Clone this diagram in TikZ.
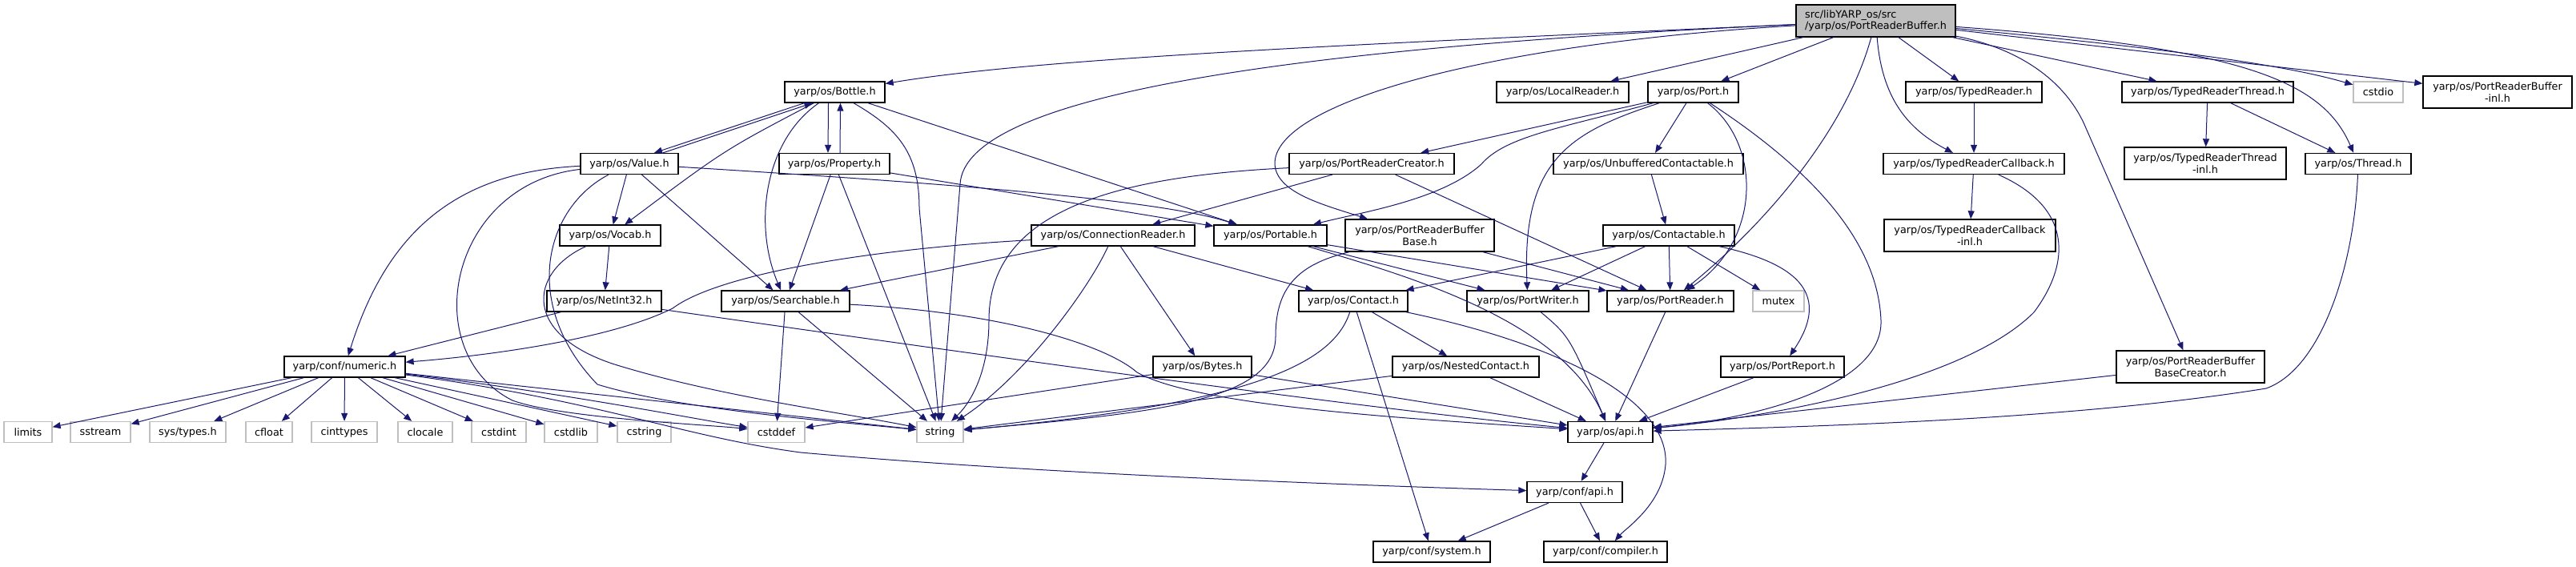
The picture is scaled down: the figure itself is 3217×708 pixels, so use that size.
\documentclass[tikz,border=0pt]{standalone}
\usepackage{fontspec}
\setmainfont{DejaVu Sans}
\usetikzlibrary{arrows.meta}
\definecolor{edgec}{HTML}{191970}
\definecolor{grayb}{HTML}{BFBFBF}
\begin{document}
\begin{tikzpicture}[x=1pt,y=-1pt,
  box/.style={draw=black, line width=1.3pt, fill=white, inner sep=0pt, minimum height=26pt,
    font=\fontsize{12.8}{14.7}\selectfont, align=center},
  sys/.style={box, draw=grayb},
  big/.style={minimum height=40pt},
  e/.style={draw=edgec, line width=1pt, -{Triangle[length=10pt,width=8pt]}}]
\useasboundingbox (0,0) rectangle (3217,708);
% row 0
\node[box, fill=grayb, big, minimum width=199pt, align=left] (root) at (2342.5,26) {src/libYARP\_os/src\\/yarp/os/PortReaderBuffer.h};
% row 1
\node[box, minimum width=125pt] (bottle) at (1042.5,115) {yarp/os/Bottle.h};
\node[box, minimum width=165pt] (local) at (1951.5,115) {yarp/os/LocalReader.h};
\node[box, minimum width=113pt] (port) at (2114.5,115) {yarp/os/Port.h};
\node[box, minimum width=170pt] (treader) at (2465,115) {yarp/os/TypedReader.h};
\node[box, minimum width=214pt] (tthread) at (2757,115) {yarp/os/TypedReaderThread.h};
\node[sys, minimum width=62pt] (cstdio) at (2970,115) {cstdio};
\node[box, big, minimum width=186pt] (prbinl) at (3119,115) {yarp/os/PortReaderBuffer\\-inl.h};
% row 2
\node[box, minimum width=122pt] (value) at (786,204.5) {yarp/os/Value.h};
\node[box, minimum width=138pt] (prop) at (1042,204.5) {yarp/os/Property.h};
\node[box, minimum width=206pt] (prc) at (1713,204.5) {yarp/os/PortReaderCreator.h};
\node[box, minimum width=237pt] (unbuf) at (2058.5,204.5) {yarp/os/UnbufferedContactable.h};
\node[box, minimum width=226pt] (trcb) at (2465,204.5) {yarp/os/TypedReaderCallback.h};
\node[box, big, minimum width=202pt] (ttinl) at (2754,204) {yarp/os/TypedReaderThread\\-inl.h};
\node[box, minimum width=132pt] (thread) at (2945,204.5) {yarp/os/Thread.h};
% row 3
\node[box, minimum width=126pt] (vocab) at (762,294) {yarp/os/Vocab.h};
\node[box, minimum width=204pt] (conn) at (1390,294) {yarp/os/ConnectionReader.h};
\node[box, minimum width=141pt] (portable) at (1586.5,294) {yarp/os/Portable.h};
\node[box, big, minimum width=186pt] (prbbase) at (1773,294) {yarp/os/PortReaderBuffer\\Base.h};
\node[box, minimum width=164pt] (contactable) at (2084,294) {yarp/os/Contactable.h};
\node[box, big, minimum width=214pt] (trcbinl) at (2460,294) {yarp/os/TypedReaderCallback\\-inl.h};
% row 4
\node[box, minimum width=143pt] (netint) at (754.5,376) {yarp/os/NetInt32.h};
\node[box, minimum width=160pt] (search) at (981,376) {yarp/os/Searchable.h};
\node[box, minimum width=136pt] (contact) at (1690,376) {yarp/os/Contact.h};
\node[box, minimum width=152pt] (pwriter) at (1908,376) {yarp/os/PortWriter.h};
\node[box, minimum width=158pt] (preader) at (2086,376) {yarp/os/PortReader.h};
\node[sys, minimum width=64pt] (mutex) at (2221,376) {mutex};
% row 5
\node[box, minimum width=151pt] (numeric) at (430.5,458) {yarp/conf/numeric.h};
\node[box, minimum width=123pt] (bytes) at (1501.5,458) {yarp/os/Bytes.h};
\node[box, minimum width=183pt] (nested) at (1830.5,458) {yarp/os/NestedContact.h};
\node[box, minimum width=154pt] (preport) at (2226,458) {yarp/os/PortReport.h};
\node[box, big, minimum width=185pt] (prbbc) at (2735.5,458) {yarp/os/PortReaderBuffer\\BaseCreator.h};
% row 6
\node[sys, minimum width=60pt] (limits) at (35,539.5) {limits};
\node[sys, minimum width=75pt] (sstream) at (125.5,539.5) {sstream};
\node[sys, minimum width=95pt] (systypes) at (234.5,539.5) {sys/types.h};
\node[sys, minimum width=58pt] (cfloat) at (336,539.5) {cfloat};
\node[sys, minimum width=82pt] (cinttypes) at (430,539.5) {cinttypes};
\node[sys, minimum width=68pt] (clocale) at (531,539.5) {clocale};
\node[sys, minimum width=68pt] (cstdint) at (623,539.5) {cstdint};
\node[sys, minimum width=66pt] (cstdlib) at (713,539.5) {cstdlib};
\node[sys, minimum width=67pt] (cstring) at (804.5,539.5) {cstring};
\node[sys, minimum width=71pt] (cstddef) at (969.5,539.5) {cstddef};
\node[sys, minimum width=58pt] (string) at (1174,539.5) {string};
\node[box, minimum width=106pt] (osapi) at (2011,539.5) {yarp/os/api.h};
% row 7
\node[box, minimum width=119pt] (confapi) at (1966.5,614.5) {yarp/conf/api.h};
% row 8
\node[box, minimum width=146pt] (system) at (1788,689) {yarp/conf/system.h};
\node[box, minimum width=154pt] (compiler) at (2005,689) {yarp/conf/compiler.h};

% ---- edges from root
\draw[e] (root) .. controls (1700,55) and (1300,72) .. (bottle);
\draw[e] (root) .. controls (1600,60) and (1205,120) .. (1199,230) -- (string);
\draw[e] (root) .. controls (1850,55) and (1590,130) .. (1592,205) .. controls (1594,240) and (1650,255) .. (prbbase);
\draw[e] (root) -- (local);
\draw[e] (root) -- (port);
\draw[e] (root) .. controls (2300,180) and (2180,300) .. (preader);
\draw[e] (root) -- (treader);
\draw[e] (root) .. controls (2350,120) and (2380,160) .. (trcb);
\draw[e] (root) -- (tthread);
\draw[e] (root) .. controls (2800,60) and (2900,100) .. (thread);
\draw[e] (root) .. controls (2700,60) and (2850,80) .. (cstdio);
\draw[e] (root) -- (prbinl);
\draw[e] (root) .. controls (2520,60) and (2580,100) .. (2605,160) -- (prbbc);
% ---- Bottle
\draw[e] ([xshift=-38pt]bottle.south) -- ([xshift=31pt]value.north);
\draw[e] ([xshift=42pt]value.north) -- ([xshift=-28pt]bottle.south);
\draw[e] ([xshift=-8pt]bottle.south) -- ([xshift=-8pt]prop.north);
\draw[e] ([xshift=7pt]prop.north) -- ([xshift=7pt]bottle.south);
\draw[e] (bottle) .. controls (905,187) .. (vocab);
\draw[e] (bottle) .. controls (955,175) and (940,280) .. (search);
\draw[e] (bottle) .. controls (1120,160) and (1148,190) .. (1148,260) -- (string);
\draw[e] (bottle) -- (portable);
% ---- Value
\draw[e] (value) -- (vocab);
\draw[e] (value) -- (search);
\draw[e] (value) .. controls (1200,230) and (1450,250) .. (portable);
\draw[e] (value) .. controls (560,215) and (480,300) .. (numeric);
\draw[e] (value) .. controls (560,230) and (520,440) .. (640,500) .. controls (700,522) and (880,530) .. (cstddef);
\draw[e] (value) .. controls (680,260) and (650,380) .. (746,480) .. controls (850,512) and (1050,527) .. (string);
% ---- Property
\draw[e] (prop) -- (portable);
\draw[e] (prop) -- (search);
\draw[e] (prop) -- (string);
% ---- Vocab
\draw[e] (vocab) -- (netint);
\draw[e] (vocab) .. controls (660,340) and (650,420) .. (774,457) .. controls (900,495) and (1050,515) .. (string);
% ---- NetInt32
\draw[e] (netint) -- (numeric);
\draw[e] (netint) .. controls (1200,440) and (1700,510) .. (osapi);
% ---- Searchable
\draw[e] (search) -- (cstddef);
\draw[e] (search) -- (string);
\draw[e] (search) .. controls (1250,390) and (1380,430) .. (1420,465) .. controls (1500,510) and (1800,525) .. (osapi);
% ---- numeric
\draw[e] (numeric) -- (limits);
\draw[e] (numeric) -- (sstream);
\draw[e] (numeric) -- (systypes);
\draw[e] (numeric) -- (cfloat);
\draw[e] (numeric) -- (cinttypes);
\draw[e] (numeric) -- (clocale);
\draw[e] (numeric) -- (cstdint);
\draw[e] (numeric) -- (cstdlib);
\draw[e] (numeric) -- (cstring);
\draw[e] (numeric) .. controls (700,490) and (850,520) .. (cstddef);
\draw[e] (numeric) -- (string);
\draw[e] (numeric) .. controls (750,500) and (850,545) .. (1000,565) .. controls (1300,592) and (1700,606) .. (confapi);
% ---- ConnectionReader
\draw[e] (conn) .. controls (1100,310) and (900,340) .. (840,385) .. controls (760,425) and (600,445) .. (numeric);
\draw[e] (conn) -- (search);
\draw[e] (conn) .. controls (1360,360) and (1280,470) .. (string);
\draw[e] (conn) -- (bytes);
\draw[e] (conn) -- (contact);
% ---- PortReaderCreator
\draw[e] (prc) -- (conn);
\draw[e] (prc) .. controls (1400,220) and (1235,260) .. (1235,400) .. controls (1235,460) and (1215,500) .. (string);
\draw[e] (prc) -- (preader);
% ---- Port
\draw[e] (port) -- (prc);
\draw[e] (port) .. controls (1950,160) and (1880,170) .. (1850,205) .. controls (1800,250) and (1700,265) .. (portable);
\draw[e] (port) .. controls (1960,165) and (1900,200) .. (pwriter);
\draw[e] (port) -- (unbuf);
\draw[e] (port) .. controls (2200,180) and (2200,300) .. (preader);
\draw[e] (port) .. controls (2260,210) and (2345,300) .. (2349,400) .. controls (2352,480) and (2200,522) .. (osapi);
% ---- UnbufferedContactable
\draw[e] (unbuf) -- (contactable);
% ---- Contactable
\draw[e] (contactable) -- (contact);
\draw[e] (contactable) -- (pwriter);
\draw[e] (contactable) -- (preader);
\draw[e] (contactable) -- (mutex);
\draw[e] (contactable) .. controls (2250,330) and (2285,370) .. (preport);
% ---- PortReaderBufferBase
\draw[e] (prbbase) -- (preader);
\draw[e] (prbbase) .. controls (1620,330) and (1593,360) .. (1593,420) .. controls (1593,500) and (1450,515) .. (string);
% ---- Portable
\draw[e] (portable) -- (pwriter);
\draw[e] (portable) -- (preader);
\draw[e] (portable) .. controls (1760,345) and (1950,400) .. (osapi);
% ---- Contact
\draw[e] (contact) .. controls (1665,455) and (1560,505) .. (string);
\draw[e] (contact) -- (system);
\draw[e] (contact) -- (nested);
\draw[e] (contact) .. controls (1950,430) and (2085,500) .. (2080,580) .. controls (2076,630) and (2030,660) .. (compiler);
% ---- NestedContact
\draw[e] (nested) -- (string);
\draw[e] (nested) -- (osapi);
% ---- Bytes
\draw[e] (bytes) -- (cstddef);
\draw[e] (bytes) -- (osapi);
% ---- others to api.h
\draw[e] (pwriter) .. controls (1960,420) .. (osapi);
\draw[e] (preader) -- (osapi);
\draw[e] (preport) -- (osapi);
\draw[e] (prbbc) -- (osapi);
% ---- Typed*
\draw[e] (treader) -- (trcb);
\draw[e] (trcb) -- (trcbinl);
\draw[e] (trcb) .. controls (2590,260) and (2585,330) .. (2540,390) .. controls (2450,480) and (2200,522) .. (osapi);
\draw[e] (tthread) -- (ttinl);
\draw[e] (tthread) -- (thread);
\draw[e] (thread) .. controls (2940,330) and (2900,460) .. (2830,485) .. controls (2600,522) and (2300,532) .. (osapi);
% ---- conf
\draw[e] (osapi) -- (confapi);
\draw[e] (confapi) -- (system);
\draw[e] (confapi) -- (compiler);
\end{tikzpicture}
\end{document}
